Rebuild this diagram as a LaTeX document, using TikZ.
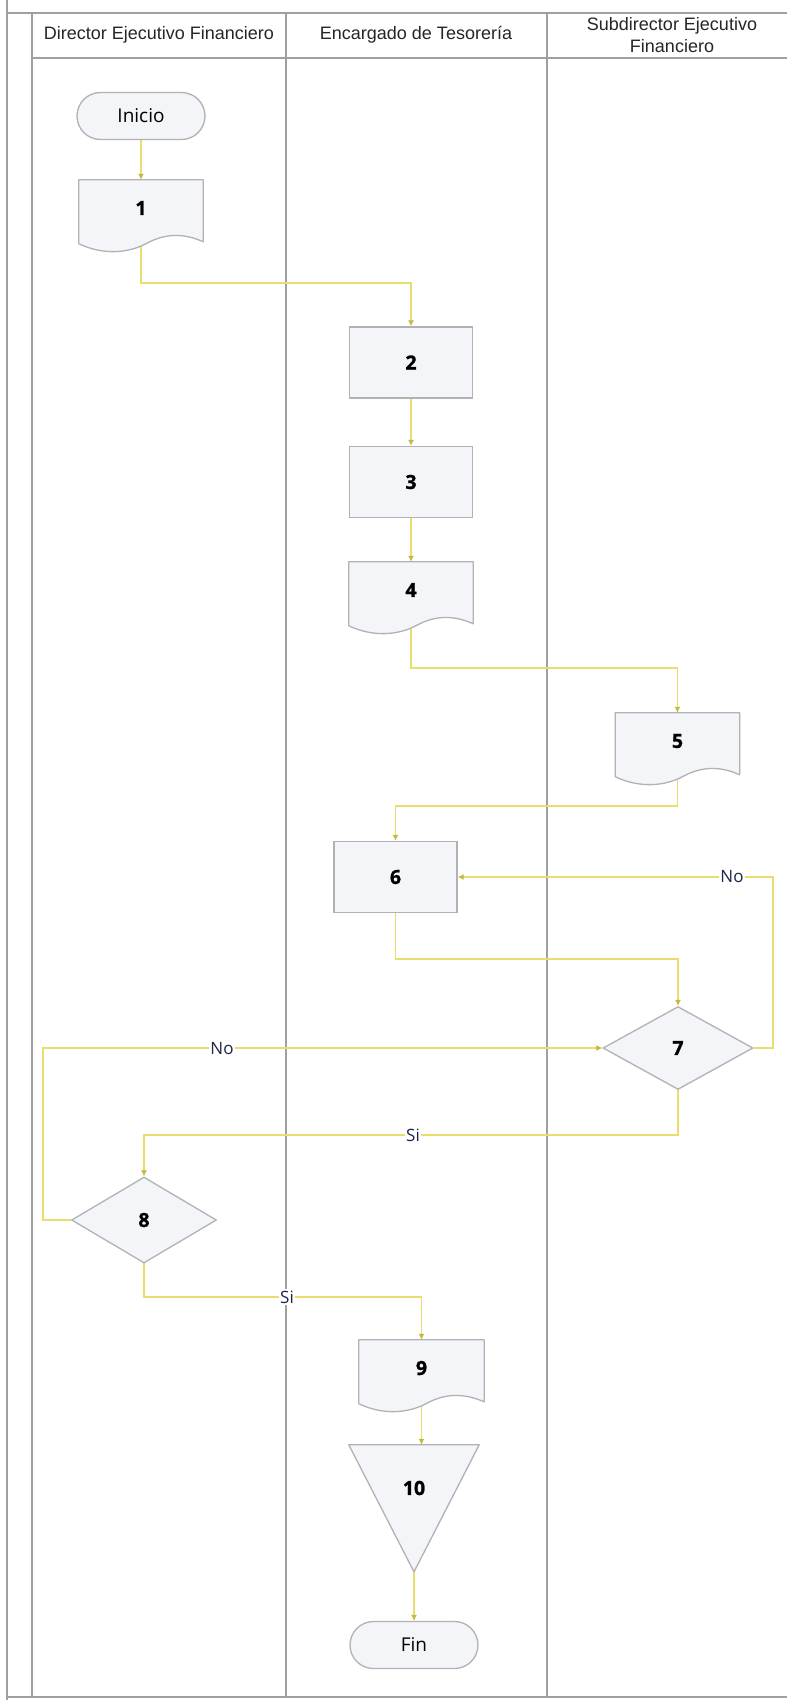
\documentclass[tikz,border=0pt]{standalone}
\usepackage{fontspec}
\setmainfont{Open Sans}
\newfontfamily\HdrFamily{Liberation Sans}
\newfontfamily\OSFamily{Open Sans}
\newfontfamily\OSHeavy{Open Sans}[BoldFeatures={FakeBold=1.2}]
\usetikzlibrary{shapes.geometric,shapes.misc,arrows.meta,calc}
\newcommand{\NumFont}{\OSHeavy\bfseries\fontsize{19.5}{22}\selectfont}
\newcommand{\TermFont}{\OSFamily\fontsize{19}{22}\selectfont}
\newcommand{\LblFont}{\OSFamily\fontsize{17}{19}\selectfont}
\newcommand{\HdrFont}{\HdrFamily\fontsize{18}{22}\selectfont}

\definecolor{laneline}{RGB}{160,160,160}
\definecolor{conncol}{RGB}{232,222,110}
\definecolor{tipcol}{RGB}{196,186,60}
\definecolor{nodefill}{RGB}{244,245,248}
\definecolor{nodeline}{RGB}{178,178,182}
\definecolor{lblcol}{RGB}{30,36,72}

\pgfdeclarelayer{bg}
\pgfdeclarelayer{shp}
\pgfsetlayers{bg,shp,main}

\tikzset{
  lane/.style={draw=laneline, line width=1.5pt},
  conn/.style={draw=conncol, line width=1.6pt, -{Latex[length=6pt,width=6pt,color=tipcol]}},
  procbox/.style={rectangle, draw=nodeline, fill=nodefill, line width=1.3pt, minimum width=123pt, minimum height=71pt, inner sep=0pt, font=\NumFont},
  docbox/.style={rectangle, draw=none, minimum width=124pt, minimum height=56pt, inner sep=0pt, font=\NumFont},
  tribox/.style={rectangle, draw=none, minimum width=130pt, minimum height=86pt, inner sep=0pt, font=\NumFont},
  docline/.style={draw=nodeline, fill=nodefill, line width=1.3pt, line join=round},
  termbox/.style={rounded rectangle, draw=nodeline, fill=nodefill, line width=1.3pt, minimum width=128pt, minimum height=47pt, inner sep=0pt, font=\TermFont},
  decbox/.style={diamond, draw=nodeline, fill=nodefill, line width=1.3pt, inner sep=0pt, font=\NumFont},
  hdr/.style={font=\HdrFont, text=black!85, align=center},
  lbl/.style={font=\LblFont, text=lblcol, fill=white, inner sep=1.5pt},
}

\newcommand{\DocOutline}[1]{%
 \draw[docline] (#1.north west) -- (#1.north east) -- ($(#1.north east)+(0,62)$)
  .. controls ($(#1.north west)+(105.4,53.3)$) and ($(#1.north west)+(86.8,53.3)$) .. ($(#1.north west)+(68.2,63.4)$)
  .. controls ($(#1.north west)+(49.6,73.4)$) and ($(#1.north west)+(24.8,75.6)$) .. ($(#1.north west)+(0,64)$) -- cycle;}

\begin{document}
\begin{tikzpicture}[x=1pt,y=-1pt]
\useasboundingbox (0,0) rectangle (787,1700);

% headers
\node[hdr] (h1) at (159,35) {Director Ejecutivo Financiero};
\node[hdr] (h2) at (416,35) {Encargado de Tesorería};
\node[hdr] (h3) at (672,35) {Subdirector Ejecutivo\\Financiero};

% nodes
\node[termbox] (start) at (141,116) {Inicio};
\node[docbox] (n1) at (141,208) {1};
\node[procbox] (n2) at (411,362.5) {2};
\node[procbox] (n3) at (411,482) {3};
\node[docbox] (n4) at (411,590) {4};
\node[docbox] (n5) at (677.5,741) {5};
\node[procbox] (n6) at (395.5,877) {6};
\node[decbox, minimum width=150pt, minimum height=83pt] (n7) at (678,1048) {7};
\node[decbox, minimum width=145pt, minimum height=86pt] (n8) at (144,1220) {8};
\node[docbox, minimum width=125pt] (n9) at (421.5,1368) {9};
\node[tribox] (n10) at (414,1488) {10};
\node[termbox] (fin) at (414,1645) {Fin};

% labels
\node[lbl] (l1) at (732,877) {No};
\node[lbl] (l2) at (222,1049) {No};
\node[lbl] (l3) at (413,1135) {Si};
\node[lbl] (l4) at (287,1297) {Si};

% helper coordinates
\coordinate (k1) at (0,283);
\coordinate (k2) at (0,668);
\coordinate (k3) at (0,806);
\coordinate (k4) at (0,959);
\coordinate (k5) at (773,0);
\coordinate (k6) at (43,0);
\coordinate (k7) at (0,1135);
\coordinate (k8) at (0,1297);

\begin{pgfonlayer}{bg}
\fill[white] (0,0) rectangle (787,1700);
% lanes
\draw[lane] (7,0) -- (7,1700);
\draw[lane] (32,13) -- (32,1697);
\draw[lane] (7,13) -- (787,13);
\draw[lane] (32,58) -- (787,58);
\draw[lane] (286,13) -- (286,1697);
\draw[lane] (547,13) -- (547,1697);
\draw[lane] (7,1697) -- (787,1697);
% connectors
\draw[conn] (start) -- (n1.north);
\draw[conn] (n1.center) -- (n1.center |- k1) -| (n2.north);
\draw[conn] (n2) -- (n3);
\draw[conn] (n3) -- (n4.north);
\draw[conn] (n4.center) -- (n4.center |- k2) -| (n5.north);
\draw[conn] (n5.center) -- (n5.center |- k3) -| (n6.north);
\draw[conn] (n6.center) -- (n6.center |- k4) -| (n7.north);
\draw[conn] (n7.east) -- (k5 |- n7.east) |- (n6.east);
\draw[conn] (n8.west) -- (k6 |- n8.west) |- (n7.west);
\draw[conn] (n7.center) -- (n7.center |- k7) -| (n8.north);
\draw[conn] (n8.center) -- (n8.center |- k8) -| (n9.north);
\draw[conn] (n9.center) -- (n9.center |- n10.north);
\draw[conn] (n10.center) -- (n10.center |- fin.north);
\end{pgfonlayer}

\begin{pgfonlayer}{shp}
\DocOutline{n1}
\DocOutline{n4}
\DocOutline{n5}
\DocOutline{n9}
\draw[docline] (n10.north west) -- (n10.north east) -- ($(n10.north)+(0,127)$) -- cycle;
\end{pgfonlayer}
\end{tikzpicture}
\end{document}
